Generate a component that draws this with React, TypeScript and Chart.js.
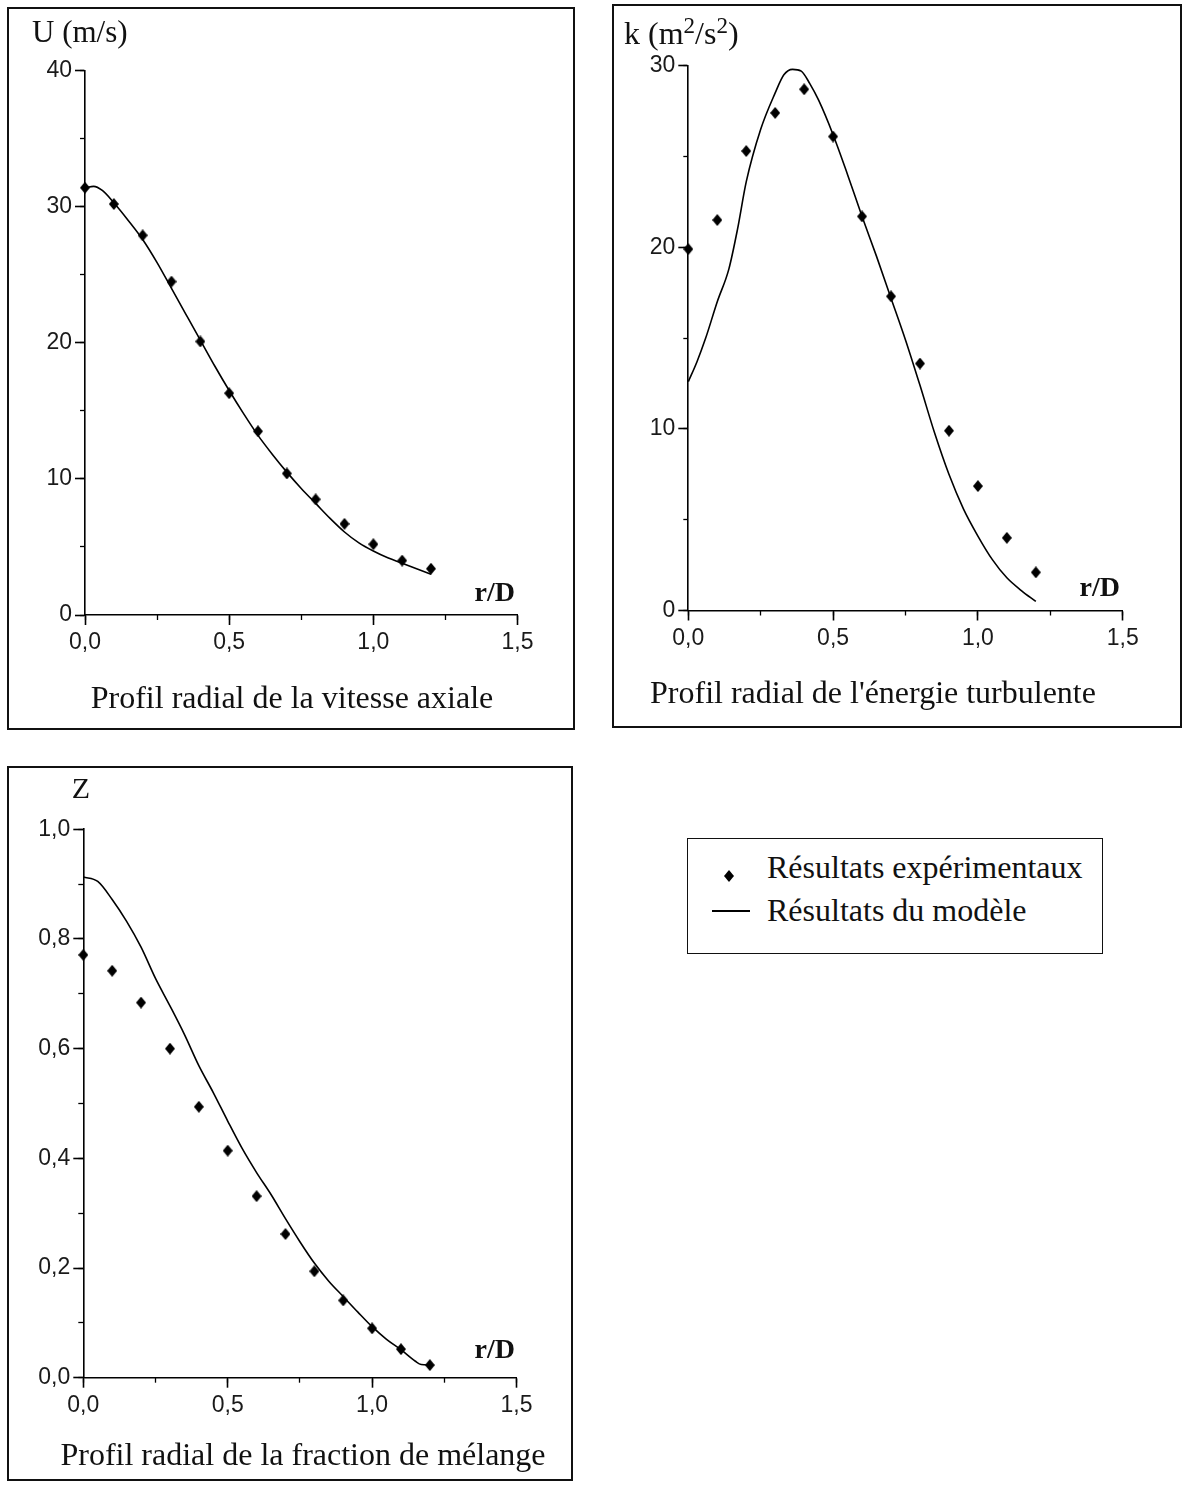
import React, { useEffect, useRef } from 'react';
import { Chart, registerables } from 'chart.js';

Chart.register(...registerables);

// ---- Data ----
const rExp = [0, 0.1, 0.2, 0.3, 0.4, 0.5, 0.6, 0.7, 0.8, 0.9, 1.0, 1.1, 1.2];

const uExp = [31.4, 30.2, 27.9, 24.5, 20.1, 16.3, 13.5, 10.4, 8.5, 6.7, 5.2, 4.0, 3.4];
const uModelR = [0, 0.03, 0.06, 0.1, 0.15, 0.2, 0.25, 0.3, 0.35, 0.4, 0.45, 0.5, 0.55, 0.6, 0.65, 0.7, 0.75, 0.8, 0.85, 0.9, 0.95, 1.0, 1.05, 1.1, 1.15, 1.2];
const uModel = [31.4, 31.5, 31.2, 30.3, 29.0, 27.6, 25.9, 24.0, 22.1, 20.2, 18.3, 16.5, 14.8, 13.2, 11.8, 10.5, 9.3, 8.2, 7.1, 6.1, 5.3, 4.7, 4.2, 3.8, 3.4, 3.0];

const kExp = [19.9, 21.5, 25.3, 27.4, 28.7, 26.1, 21.7, 17.3, 13.6, 9.9, 6.85, 4.0, 2.1];
const kModelR = [0, 0.03, 0.06, 0.1, 0.14, 0.17, 0.2, 0.25, 0.3, 0.33, 0.36, 0.39, 0.42, 0.45, 0.5, 0.55, 0.6, 0.65, 0.7, 0.75, 0.8, 0.85, 0.9, 0.95, 1.0, 1.05, 1.1, 1.15, 1.2];
const kModel = [12.6, 13.7, 15.0, 17.0, 18.8, 21.0, 23.6, 26.5, 28.5, 29.5, 29.8, 29.7, 29.0, 28.1, 26.2, 24.0, 21.7, 19.5, 17.2, 14.9, 12.4, 9.8, 7.5, 5.6, 4.1, 2.8, 1.8, 1.1, 0.5];

const zExp = [0.771, 0.742, 0.684, 0.6, 0.494, 0.414, 0.331, 0.262, 0.194, 0.141, 0.09, 0.052, 0.023];
const zModelR = [0, 0.05, 0.1, 0.15, 0.2, 0.25, 0.3, 0.35, 0.4, 0.45, 0.5, 0.55, 0.6, 0.65, 0.7, 0.75, 0.8, 0.85, 0.9, 0.95, 1.0, 1.05, 1.1, 1.15, 1.17, 1.2];
const zModel = [0.913, 0.905, 0.872, 0.832, 0.785, 0.728, 0.678, 0.626, 0.569, 0.52, 0.468, 0.418, 0.374, 0.334, 0.29, 0.248, 0.209, 0.176, 0.148, 0.12, 0.093, 0.07, 0.051, 0.03, 0.024, 0.023];

const xMin = 0;
const xMax = 1.5;
const xMajorStep = 0.5;
const xMinorStep = 0.25;

const fmtComma = (v: number) => Number(v).toFixed(1).replace('.', ',');
const fmtInt = (v: number) => String(Math.round(Number(v)));

type Spec = {
  cl: number; ct: number; cw: number; ch: number;
  x0: number; x1: number; y0: number; y1: number;
  yMax: number; yStep: number; yMinor: number;
  yFmt: (v: number) => string;
  expY: number[]; modelR: number[]; modelY: number[];
};

const WY = 66;
const HX = 44;

function makeDiamond() {
  const c = document.createElement('canvas');
  c.width = 10;
  c.height = 12;
  const g = c.getContext('2d')!;
  g.fillStyle = '#000';
  g.beginPath();
  g.moveTo(5, 0);
  g.lineTo(10, 6);
  g.lineTo(5, 12);
  g.lineTo(0, 6);
  g.closePath();
  g.fill();
  return c;
}

function PanelChart({ spec }: { spec: Spec }) {
  const ref = useRef<HTMLCanvasElement>(null);
  useEffect(() => {
    const canvas = ref.current!;
    const s = spec;
    const tickFont = { family: 'Liberation Sans', size: 23 };
    const chart = new Chart(canvas, {
      type: 'scatter',
      data: {
        datasets: [
          {
            type: 'scatter',
            data: rExp.map((r, i) => ({ x: r, y: s.expY[i] })),
            pointStyle: makeDiamond() as any,
            pointRadius: 6,
            backgroundColor: '#000',
            borderWidth: 0,
            clip: false as any,
          },
          {
            type: 'line',
            data: s.modelR.map((r, i) => ({ x: r, y: s.modelY[i] })),
            borderColor: '#000',
            borderWidth: 1.6,
            pointRadius: 0,
            fill: false,
            cubicInterpolationMode: 'monotone',
            clip: false as any,
          } as any,
        ],
      },
      options: {
        responsive: false,
        animation: false,
        devicePixelRatio: 1,
        events: [],
        layout: {
          padding: {
            left: s.x0 - s.cl - WY,
            right: s.cl + s.cw - s.x1,
            top: s.y0 - s.ct,
            bottom: s.ct + s.ch - s.y1 - HX,
          },
        },
        plugins: { legend: { display: false }, tooltip: { enabled: false } },
        scales: {
          x: {
            type: 'linear', position: 'bottom', weight: 1, min: xMin, max: xMax,
            border: { display: true, color: '#000', width: 1.6 },
            grid: { drawOnChartArea: false, drawTicks: true, tickLength: 10, tickWidth: 1.6, tickColor: '#000' },
            ticks: { stepSize: xMajorStep, autoSkip: false, maxRotation: 0, padding: 4, color: '#1a1a1a', font: tickFont, callback: (v: any) => fmtComma(v) },
            afterFit: (sc: any) => { sc.height = HX; },
          },
          xMinor: {
            type: 'linear', position: 'bottom', weight: 0, min: xMin, max: xMax,
            border: { display: false },
            grid: { drawOnChartArea: false, drawTicks: true, tickLength: 5, tickWidth: 1.3, tickColor: '#000' },
            ticks: { stepSize: xMinorStep, display: false, autoSkip: false },
            afterFit: (sc: any) => { sc.height = 0; },
          },
          y: {
            type: 'linear', position: 'left', weight: 1, min: 0, max: s.yMax,
            border: { display: true, color: '#000', width: 1.6 },
            grid: { drawOnChartArea: false, drawTicks: true, tickLength: 10, tickWidth: 1.6, tickColor: '#000' },
            ticks: { stepSize: s.yStep, autoSkip: false, padding: 3, color: '#1a1a1a', font: tickFont, callback: (v: any) => s.yFmt(v) },
            afterFit: (sc: any) => { sc.width = WY; },
          },
          yMinor: {
            type: 'linear', position: 'left', weight: 0, min: 0, max: s.yMax,
            border: { display: false },
            grid: { drawOnChartArea: false, drawTicks: true, tickLength: 5, tickWidth: 1.3, tickColor: '#000' },
            ticks: { stepSize: s.yMinor, display: false, autoSkip: false },
            afterFit: (sc: any) => { sc.width = 0; },
          },
        },
      } as any,
    });
    return () => chart.destroy();
  }, []);
  return (
    <canvas
      ref={ref}
      width={spec.cw}
      height={spec.ch}
      style={{ position: 'absolute', left: spec.cl, top: spec.ct, width: spec.cw, height: spec.ch }}
    />
  );
}

function Label({ x, y, size, bold, anchor = 'start', children }: any) {
  const style: any = {
    position: 'absolute',
    top: y - 0.8375 * size,
    fontFamily: "'Liberation Serif', 'Times New Roman', serif",
    fontSize: size,
    lineHeight: `${size}px`,
    fontWeight: bold ? 'bold' : 'normal',
    whiteSpace: 'nowrap',
    color: '#111',
  };
  if (anchor === 'start') style.left = x;
  else if (anchor === 'middle') { style.left = x - 400; style.width = 800; style.textAlign = 'center'; }
  else { style.left = x - 800; style.width = 800; style.textAlign = 'right'; }
  return <div style={style}>{children}</div>;
}

function Box({ l, t, w, h, bw = 2 }: any) {
  return (
    <div style={{ position: 'absolute', left: l, top: t, width: w, height: h, border: `${bw}px solid #111`, boxSizing: 'border-box' }} />
  );
}

const Sup = ({ children }: any) => (
  <span style={{ fontSize: '0.72em', position: 'relative', top: '-0.5em' }}>{children}</span>
);

const specU: Spec = {
  cl: 9, ct: 9, cw: 564, ch: 676,
  x0: 85, x1: 517.5, y0: 70.7, y1: 615,
  yMax: 40, yStep: 10, yMinor: 5, yFmt: fmtInt,
  expY: uExp, modelR: uModelR, modelY: uModel,
};
const specK: Spec = {
  cl: 614, ct: 6, cw: 566, ch: 676,
  x0: 688.3, x1: 1122.7, y0: 65.7, y1: 610.5,
  yMax: 30, yStep: 10, yMinor: 5, yFmt: fmtInt,
  expY: kExp, modelR: kModelR, modelY: kModel,
};
const specZ: Spec = {
  cl: 9, ct: 768, cw: 562, ch: 676,
  x0: 83.3, x1: 516.5, y0: 829.3, y1: 1377.7,
  yMax: 1.0, yStep: 0.2, yMinor: 0.1, yFmt: fmtComma,
  expY: zExp, modelR: zModelR, modelY: zModel,
};

export default function App() {
  return (
    <div style={{ position: 'absolute', left: 0, top: 0, width: 1183, height: 1488, overflow: 'hidden', background: '#fff' }}>
      {/* Panel 1 */}
      <Box l={7} t={7} w={568} h={723} />
      <PanelChart spec={specU} />
      <Label x={32} y={41.7} size={31}>U (m/s)</Label>
      <Label x={515} y={601.7} size={28} bold anchor="end">r/D</Label>
      <Label x={292} y={708} size={32} anchor="middle">Profil radial de la vitesse axiale</Label>

      {/* Panel 2 */}
      <Box l={612} t={4} w={570} h={724} />
      <PanelChart spec={specK} />
      <Label x={624} y={44} size={32}>k (m<Sup>2</Sup>/s<Sup>2</Sup>)</Label>
      <Label x={1120} y={596} size={28} bold anchor="end">r/D</Label>
      <Label x={873} y={703} size={32} anchor="middle">Profil radial de l'énergie turbulente</Label>

      {/* Panel 3 */}
      <Box l={7} t={766} w={566} h={715} />
      <PanelChart spec={specZ} />
      <Label x={71.7} y={798.3} size={30}>Z</Label>
      <Label x={515} y={1358} size={28} bold anchor="end">r/D</Label>
      <Label x={303} y={1465} size={32} anchor="middle">Profil radial de la fraction de mélange</Label>

      {/* Legend */}
      <Box l={687} t={838} w={416} h={116} bw={1.5} />
      <svg style={{ position: 'absolute', left: 724, top: 870 }} width={10} height={12}>
        <polygon points="5,0 10,6 5,12 0,6" fill="#000" />
      </svg>
      <Label x={767} y={878} size={32}>Résultats expérimentaux</Label>
      <div style={{ position: 'absolute', left: 712, top: 910, width: 38, height: 1.5, background: '#000' }} />
      <Label x={767} y={921} size={32}>Résultats du modèle</Label>
    </div>
  );
}
